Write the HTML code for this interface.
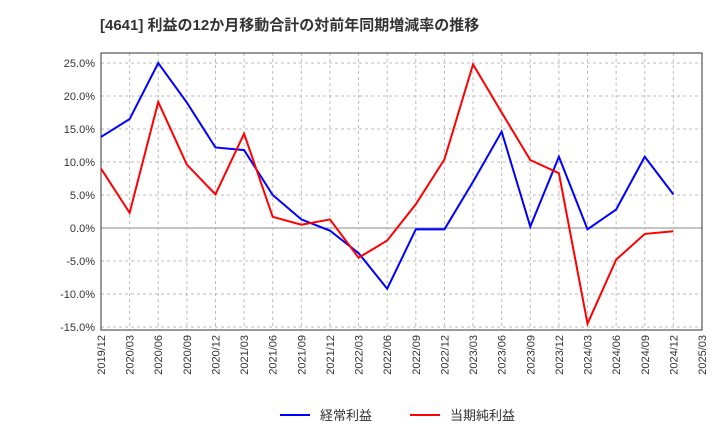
<!DOCTYPE html>
<html><head><meta charset="utf-8"><style>
body{margin:0;background:#fff;width:720px;height:440px;overflow:hidden}
svg{font-family:"Liberation Sans","Noto Sans CJK JP",sans-serif}
</style></head><body>
<svg id="c" width="720" height="440">
<text x="100" y="30" font-size="15" font-weight="bold" fill="#333">[4641]  利益の12か月移動合計の対前年同期増減率の推移</text>
<g id="grid"></g><g id="axes"></g><g id="series"></g>
<g>
<line x1="280" y1="415" x2="310" y2="415" stroke="#0000ff" stroke-width="2"/>
<text x="320" y="420" font-size="13" fill="#333">経常利益</text>
<line x1="410" y1="415" x2="440" y2="415" stroke="#ff0000" stroke-width="2"/>
<text x="450" y="420" font-size="13" fill="#333">当期純利益</text>
</g>
</svg>
<script>
const categories=["2019/12","2020/03","2020/06","2020/09","2020/12","2021/03","2021/06","2021/09","2021/12","2022/03","2022/06","2022/09","2022/12","2023/03","2023/06","2023/09","2023/12","2024/03","2024/06","2024/09","2024/12","2025/03"];
const keijoValues=[13.8,16.5,25.0,19.0,12.2,11.8,5.0,1.3,-0.4,-3.8,-9.2,-0.2,-0.2,7.0,14.6,0.2,10.8,-0.2,2.8,10.8,5.1];
const junriValues=[9.0,2.3,19.1,9.6,5.1,14.3,1.7,0.5,1.3,-4.5,-1.9,3.6,10.4,24.8,17.5,10.3,8.3,-14.5,-4.8,-0.9,-0.5];
const yTicks=[25,20,15,10,5,0,-5,-10,-15];
const L=101,R=702,T=53,B=330;
const x=i=>L+(R-L)*i/(categories.length-1);
const y=v=>228-v*6.6;
const NS="http://www.w3.org/2000/svg";
function mk(t,a,p){const e=document.createElementNS(NS,t);for(const k in a)e.setAttribute(k,a[k]);p.appendChild(e);return e;}
const g=document.getElementById('grid'),ax=document.getElementById('axes'),s=document.getElementById('series');
mk('rect',{x:L,y:T,width:R-L,height:B-T,fill:'none',stroke:'#333'},ax);
yTicks.forEach(v=>{
 const ln=mk('line',{x1:L,x2:R,y1:y(v),y2:y(v),stroke:v===0?'#888':'#bbb','stroke-dasharray':v===0?'':'3,3'},g);
 
 
 const t=mk('text',{x:L-6,y:y(v)+4,'text-anchor':'end','font-size':11,fill:'#333'},ax);
 t.textContent=v.toFixed(1)+'%';
 
 
});
categories.forEach((c,i)=>{
 const ln=mk('line',{x1:x(i),x2:x(i),y1:T,y2:B,stroke:'#bbb','stroke-dasharray':'3,3'},g);
 
 
 const t=mk('text',{transform:`translate(${x(i)+4},${B+5}) rotate(-90)`,'text-anchor':'end','font-size':11,fill:'#333'},ax);
 t.textContent=c;
 
 
});
function line(vals,col,name){
 const p=mk('polyline',{points:vals.map((v,i)=>x(i)+','+y(v)).join(' '),fill:'none',stroke:col,'stroke-width':2},s);
 
 
}
line(keijoValues,'#0000ff','keijo-line');
line(junriValues,'#ff0000','junri-line');
</script>
</body></html>
